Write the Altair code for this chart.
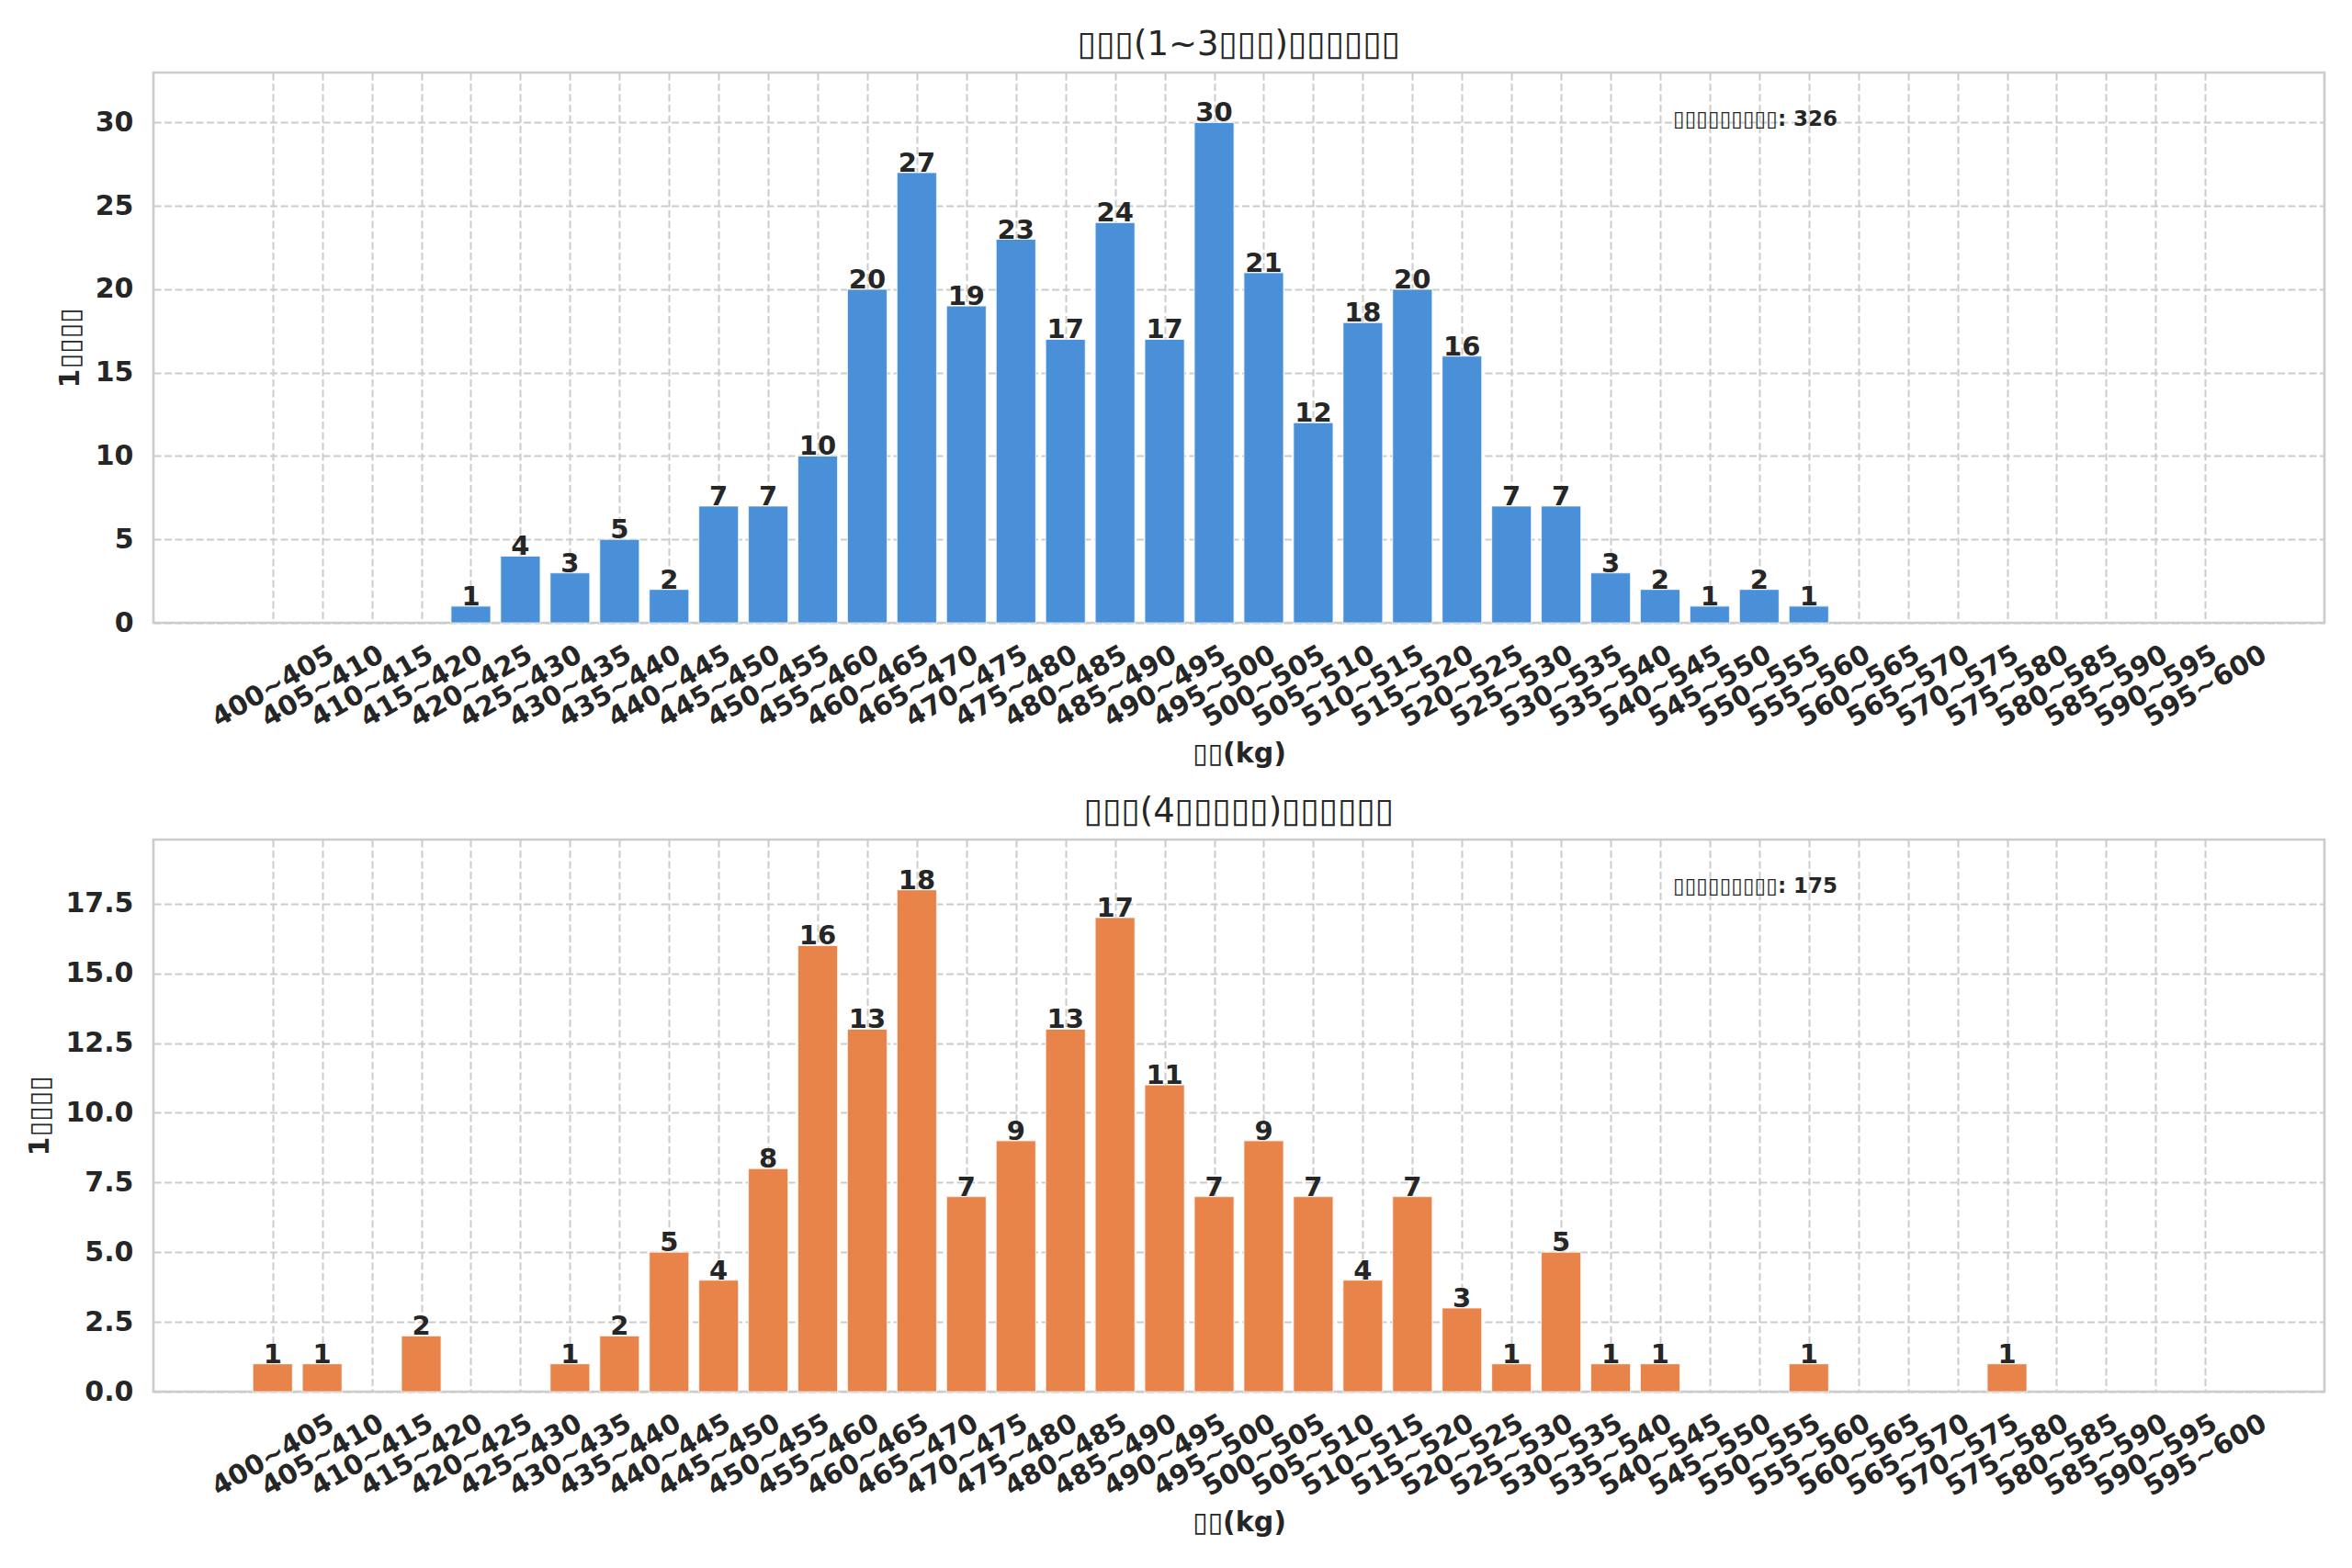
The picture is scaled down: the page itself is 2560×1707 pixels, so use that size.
import altair as alt
import pandas as pd

F = "DejaVu Sans"
TXT = "#262626"

bins = ["400~405", "405~410", "410~415", "415~420", "420~425", "425~430", "430~435", "435~440",
        "440~445", "445~450", "450~455", "455~460", "460~465", "465~470", "470~475", "475~480",
        "480~485", "485~490", "490~495", "495~500", "500~505", "505~510", "510~515", "515~520",
        "520~525", "525~530", "530~535", "535~540", "540~545", "545~550", "550~555", "555~560",
        "560~565", "565~570", "570~575", "575~580", "580~585", "585~590", "590~595", "595~600"]

top_counts = [0, 0, 0, 0, 1, 4, 3, 5, 2, 7, 7, 10, 20, 27, 19, 23, 17, 24, 17, 30,
              21, 12, 18, 20, 16, 7, 7, 3, 2, 1, 2, 1, 0, 0, 0, 0, 0, 0, 0, 0]
bottom_counts = [1, 1, 0, 2, 0, 0, 1, 2, 5, 4, 8, 16, 13, 18, 7, 9, 13, 17, 11, 7,
                 9, 7, 4, 7, 3, 1, 5, 1, 1, 0, 0, 1, 0, 0, 0, 1, 0, 0, 0, 0]

top_title = "▯▯▯(1~3▯▯▯)▯▯▯▯▯▯"
bottom_title = "▯▯▯(4▯▯▯▯▯)▯▯▯▯▯▯"
x_title = "▯▯(kg)"
y_title = "1▯▯▯▯"
note_prefix = "▯▯▯▯▯▯▯▯▯: "

top_yticks = [0, 5, 10, 15, 20, 25, 30]
bottom_yticks = [0, 2.5, 5, 7.5, 10, 12.5, 15, 17.5]

W = 2363
label_js = "[" + ",".join("'" + b + "'" for b in bins) + "]"


def panel(counts, color, title, ymax, yvals, yfmt, h):
    df = pd.DataFrame({"i": list(range(len(bins))), "bin": bins, "count": counts})
    base = alt.Chart(df).transform_filter("datum.count > 0").transform_calculate(
        x0="datum.i - 0.4", x1="datum.i + 0.4")
    xscale = alt.Scale(domain=[-2.405, len(bins) - 1 + 2.405], nice=False, zero=False)
    x = alt.X("x0:Q", scale=xscale,
              axis=alt.Axis(title=x_title, values=list(range(len(bins))),
                            labelExpr=label_js + "[datum.value]",
                            labelAngle=-30, labelAlign="center",
                            labelBaseline="middle", labelPadding=69,
                            labelOverlap=False, labelFlush=False))
    y = alt.Y("count:Q", scale=alt.Scale(domain=[0, ymax], nice=False, zero=True),
              axis=alt.Axis(title=y_title, values=yvals, format=yfmt))
    bars = base.mark_bar(color=color, stroke="white", strokeWidth=1.2,
                         strokeOpacity=0.7).encode(x=x, x2="x1:Q", y=y, y2=alt.datum(0))
    labels = base.mark_text(
        baseline="alphabetic", dy=-1, fontSize=29, fontWeight="bold", color=TXT, font=F
    ).encode(x=alt.X("i:Q", scale=xscale), y=alt.Y("count:Q"), text="count:Q")
    note_df = pd.DataFrame({"t": [note_prefix + str(sum(counts))]})
    note = alt.Chart(note_df).mark_text(
        align="left", baseline="middle", fontSize=23, fontWeight="bold", color=TXT, font=F
    ).encode(x=alt.value(1654), y=alt.value(51), text="t:N")
    return alt.layer(bars, labels, note).properties(
        width=W, height=h,
        title=alt.Title(title, fontSize=37, fontWeight="normal", font=F, color=TXT,
                        anchor="middle", frame="group", baseline="alphabetic", offset=-18)
    )


top = panel(top_counts, "#4A90D9", top_title, 33, top_yticks, "d", 599)
bottom = panel(bottom_counts, "#E8844A", bottom_title, 19.8, bottom_yticks, ".1f", 601)

chart = alt.vconcat(top, bottom, spacing=26).properties(
    padding={"left": 19, "top": 20, "right": 10, "bottom": 10},
    background="white",
).configure_view(
    stroke="#cccccc", strokeWidth=2.7
).configure_axis(
    domain=False, ticks=False, tickSize=0,
    grid=True, gridColor="#cccccc", gridDash=[8, 3.5], gridWidth=2,
    labelFont=F, labelFontSize=30, labelFontWeight="bold", labelColor=TXT,
    titleFont=F, titleFontSize=30, titleFontWeight="bold", titleColor=TXT,
).configure_axisY(
    labelPadding=22, titlePadding=12
).configure_axisX(
    titlePadding=9, labelFontSize=29.5
)

chart.save("out.html", embed_options={"renderer": "svg", "actions": False})
